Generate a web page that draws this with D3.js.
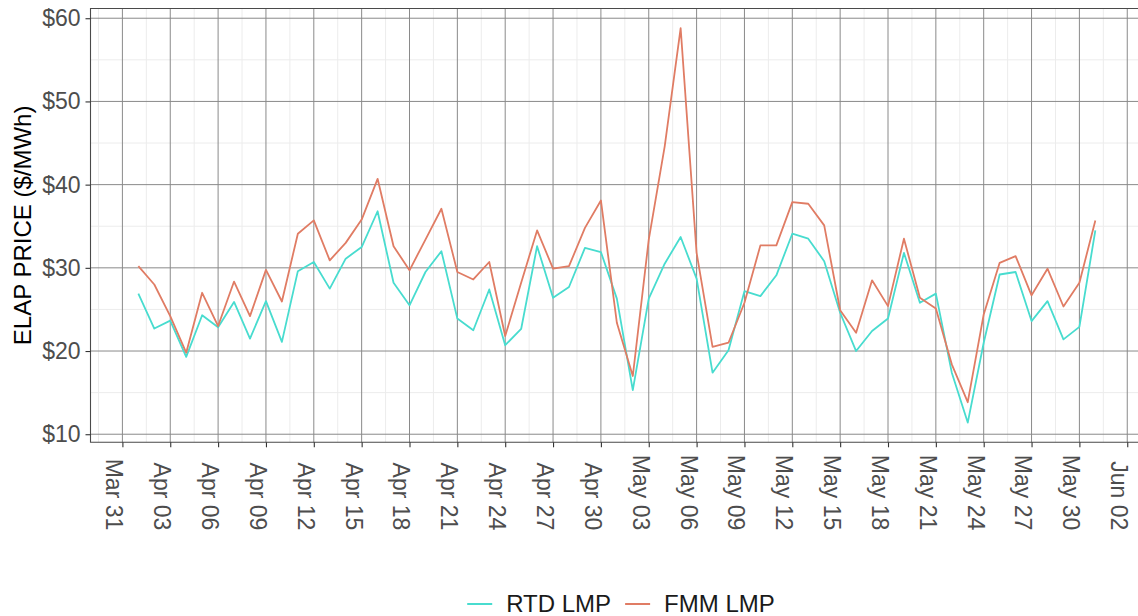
<!DOCTYPE html>
<html lang="en">
<head>
  <meta charset="UTF-8">
  <title>ELAP price</title>
  <script src="https://d3js.org/d3.v7.min.js"></script>
  <style>
    body { margin: 0; background: #fff; }
    text { font-family: "Liberation Sans", Arial, sans-serif; }
  </style>
</head>
<body>
<div id="chart"></div>
<script>
  let width = 1138;
  let height = 616;

  // daily values, Apr 01 .. May 31
  let startDay = new Date(Date.UTC(2020, 3, 1));
  let endDay = new Date(Date.UTC(2020, 5, 1));
  let days = d3.utcDay.range(startDay, endDay);

  let rtdValues = [26.9, 22.7, 23.65, 19.3, 24.3, 22.85, 25.9, 21.5, 26.0, 21.1,
    29.6, 30.7, 27.5, 31.1, 32.5, 36.8, 28.2, 25.5, 29.5, 32.0,
    23.9, 22.5, 27.4, 20.7, 22.65, 32.6, 26.4, 27.7, 32.4, 31.9,
    26.3, 15.3, 26.3, 30.5, 33.7, 28.7, 17.4, 20.1, 27.2, 26.6,
    29.1, 34.1, 33.5, 30.8, 24.6, 20.0, 22.4, 23.9, 31.8, 25.8,
    26.9, 17.4, 11.4, 21.0, 29.2, 29.5, 23.6, 26.0, 21.4, 22.9, 34.5];

  let fmmValues = [30.2, 28.0, 24.2, 19.8, 27.0, 23.0, 28.35, 24.2, 29.75, 25.95,
    34.1, 35.7, 30.9, 33.0, 35.8, 40.7, 32.6, 29.7, 33.4, 37.1,
    29.5, 28.6, 30.7, 21.8, 28.2, 34.5, 29.9, 30.2, 34.8, 38.1,
    23.4, 17.0, 33.4, 44.6, 58.8, 31.8, 20.5, 21.0, 25.8, 32.7,
    32.7, 37.9, 37.7, 35.1, 24.9, 22.2, 28.5, 25.4, 33.5, 26.4,
    25.1, 18.4, 13.85, 24.4, 30.6, 31.4, 26.7, 29.9, 25.35, 28.2, 35.7];

  let seriesNames = ["RTD LMP", "FMM LMP"];
  let seriesColors = ["#48dccf", "#e07c64"];
  let yTicks = [10, 20, 30, 40, 50, 60];
  let xTickLabels = ["Mar 31", "Apr 03", "Apr 06", "Apr 09", "Apr 12", "Apr 15", "Apr 18",
    "Apr 21", "Apr 24", "Apr 27", "Apr 30", "May 03", "May 06", "May 09", "May 12",
    "May 15", "May 18", "May 21", "May 24", "May 27", "May 30", "Jun 02"];

  let series = [rtdValues, fmmValues].map((vals, i) => ({
    name: seriesNames[i],
    color: seriesColors[i],
    points: vals.map((v, j) => ({ date: days[j], value: v }))
  }));

  // ggplot-like 5% expansion
  let allVals = rtdValues.concat(fmmValues);
  let yMin = d3.min(allVals), yMax = d3.max(allVals);
  let yPad = (yMax - yMin) * 0.05;
  let xPad = (days[days.length - 1] - days[0]) * 0.05;
  let xDomain = [new Date(+days[0] - xPad), new Date(+days[days.length - 1] + xPad)];

  let panel = { left: 90.5, top: 8.5, bottom: 442.3 };

  let x = d3.scaleUtc()
          .domain(xDomain)
          .range([panel.left, panel.left + 1052.7]);

  let y = d3.scaleLinear()
          .domain([yMin - yPad, yMax + yPad])
          .range([panel.bottom, panel.top]);

  let parseTick = d3.utcParse("%b %d %Y");
  let xTicks = xTickLabels.map(l => parseTick(l + " 2020"));
  let xMinor = xTicks.slice(0, -1).map((d, i) => new Date((+d + +xTicks[i + 1]) / 2));
  xMinor.unshift(new Date(+xTicks[0] - (xTicks[1] - xTicks[0]) / 2));
  xMinor.push(new Date(+xTicks[xTicks.length - 1] + (xTicks[1] - xTicks[0]) / 2));
  let yMinor = yTicks.slice(0, -1).map(v => v + 5);

  let svg = d3.select("#chart")
          .append("svg")
          .attr("width", width)
          .attr("height", height)
          .style("display", "block");

  svg.append("rect").attr("width", width).attr("height", height).attr("fill", "#fff");

  svg.append("clipPath").attr("id", "panelClip")
          .append("rect")
          .attr("x", panel.left).attr("y", panel.top)
          .attr("width", width - panel.left).attr("height", panel.bottom - panel.top);

  let grid = svg.append("g").attr("clip-path", "url(#panelClip)");

  // minor grid
  grid.selectAll(".vminor").data(xMinor).join("line")
          .attr("x1", d => x(d)).attr("x2", d => x(d))
          .attr("y1", panel.top).attr("y2", panel.bottom)
          .attr("stroke", "#ececec").attr("stroke-width", 1);
  grid.selectAll(".hminor").data(yMinor).join("line")
          .attr("x1", panel.left).attr("x2", width)
          .attr("y1", d => y(d)).attr("y2", d => y(d))
          .attr("stroke", "#ececec").attr("stroke-width", 1);

  // major grid
  grid.selectAll(".vmajor").data(xTicks).join("line")
          .attr("x1", d => x(d)).attr("x2", d => x(d))
          .attr("y1", panel.top).attr("y2", panel.bottom)
          .attr("stroke", "#8a8a8a").attr("stroke-width", 1);
  grid.selectAll(".hmajor").data(yTicks).join("line")
          .attr("x1", panel.left).attr("x2", width)
          .attr("y1", d => y(d)).attr("y2", d => y(d))
          .attr("stroke", "#8a8a8a").attr("stroke-width", 1);

  // lines
  let line = d3.line()
          .x(d => x(d.date))
          .y(d => y(d.value));

  svg.append("g").attr("clip-path", "url(#panelClip)")
          .selectAll("path")
          .data(series)
          .join("path")
          .attr("d", d => line(d.points))
          .attr("fill", "none")
          .attr("stroke", d => d.color)
          .attr("stroke-width", 1.8)
          .attr("stroke-linejoin", "round");

  // panel border
  svg.append("path")
          .attr("d", `M${width + 2},${panel.top}H${panel.left}V${panel.bottom}H${width + 2}`)
          .attr("fill", "none")
          .attr("stroke", "#4a4a4a")
          .attr("stroke-width", 1.1);

  // y axis
  let yAxis = d3.axisLeft(y)
          .tickValues(yTicks)
          .tickFormat(d => "$" + d)
          .tickSize(5)
          .tickPadding(5);

  let yG = svg.append("g")
          .attr("transform", `translate(${panel.left},0)`)
          .call(yAxis);
  yG.select(".domain").remove();
  yG.selectAll(".tick line").attr("stroke", "#333").attr("stroke-width", 1.1);
  yG.selectAll(".tick text")
          .attr("fill", "#4d4d4d")
          .style("font-size", "23px")
          .style("font-family", "Liberation Sans, Arial, sans-serif");

  // x axis
  let xAxis = d3.axisBottom(x)
          .tickValues(xTicks)
          .tickFormat((d, i) => xTickLabels[i])
          .tickSize(5);

  let xG = svg.append("g")
          .attr("transform", `translate(0,${panel.bottom})`)
          .call(xAxis);
  xG.select(".domain").remove();
  xG.selectAll(".tick line").attr("stroke", "#333").attr("stroke-width", 1.1);
  xG.selectAll(".tick text")
          .attr("fill", "#4d4d4d")
          .style("font-size", "23px")
          .style("font-family", "Liberation Sans, Arial, sans-serif")
          .attr("text-anchor", "end")
          .attr("x", 0)
          .attr("y", 0)
          .attr("dy", "0.72em")
          .attr("transform", "translate(0,88) rotate(90)");

  // y axis title
  svg.append("text")
          .attr("transform", `translate(31,${(panel.top + panel.bottom) / 2}) rotate(-90)`)
          .attr("text-anchor", "middle")
          .attr("fill", "#000")
          .style("font-size", "24px")
          .text("ELAP PRICE ($/MWh)");

  // legend
  let legend = svg.append("g");
  let items = legend.selectAll("g").data(series).join("g");
  items.append("line")
          .attr("x1", 0).attr("x2", 25)
          .attr("y1", -8).attr("y2", -8)
          .attr("stroke", d => d.color)
          .attr("stroke-width", 2);
  items.append("text")
          .attr("x", 39)
          .attr("y", 0)
          .attr("fill", "#1a1a1a")
          .style("font-size", "24px")
          .text(d => d.name);

  let offset = 0;
  items.each(function () {
    let w = this.getBBox().width;
    d3.select(this).attr("transform", `translate(${offset},0)`);
    offset += w + 14;
  });
  let legendWidth = offset - 14;
  legend.attr("transform", `translate(${621 - legendWidth / 2},${612})`);
</script>
</body>
</html>
